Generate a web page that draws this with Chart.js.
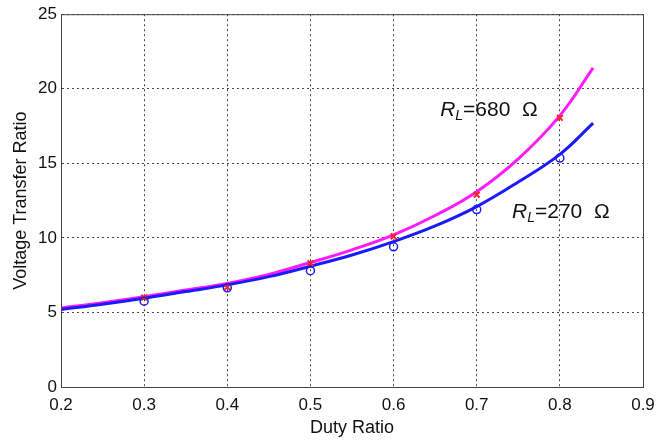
<!DOCTYPE html>
<html>
<head>
<meta charset="utf-8">
<script src="https://cdn.jsdelivr.net/npm/chart.js@4/dist/chart.umd.min.js"></script>
<style>
  html, body { margin: 0; padding: 0; background: #fff; }
  #wrap { width: 657px; height: 443px; }
</style>
</head>
<body>
<div id="wrap"><canvas id="vtr"></canvas></div>
<script>
// simulated curves
var curveX = [0.2, 0.25, 0.3, 0.35, 0.4, 0.45, 0.5, 0.55, 0.6, 0.65, 0.7, 0.75, 0.8, 0.84];
var curve680 = [5.3, 5.65, 6.05, 6.5, 6.95, 7.55, 8.35, 9.2, 10.2, 11.5, 13.1, 15.3, 18.2, 21.4];
var curve270 = [5.2, 5.55, 5.95, 6.4, 6.85, 7.4, 8.1, 8.85, 9.75, 10.8, 12.1, 13.75, 15.6, 17.7];

// measured points
var measX = [0.3, 0.4, 0.5, 0.6, 0.7, 0.8];
var meas680 = [6.0, 6.7, 8.3, 10.1, 12.9, 18.05];
var meas270 = [5.75, 6.65, 7.8, 9.4, 11.9, 15.35];

var xTicks = [0.2, 0.3, 0.4, 0.5, 0.6, 0.7, 0.8, 0.9];

// label anchors, in data units
var labels = [
    { x: 0.656, y: 18.2, value: "680" },
    { x: 0.7425, y: 11.33, value: "270" },
];

function pts(xs, ys) {
    return xs.map(function (x, i) { return { x: x, y: ys[i] }; });
}

var frameAndLabels = {
    id: "frameAndLabels",
    afterDraw: function (chart) {
        var ctx = chart.ctx;
        var a = chart.chartArea;
        ctx.save();
        ctx.strokeStyle = "#444";
        ctx.lineWidth = 1;
        ctx.strokeRect(a.left + 0.5, a.top + 0.5, a.right - a.left, a.bottom - a.top);

        ctx.fillStyle = "#111";
        ctx.textBaseline = "alphabetic";
        labels.forEach(function (l) {
            var px = chart.scales.x.getPixelForValue(l.x);
            var py = chart.scales.y.getPixelForValue(l.y);
            ctx.font = "italic 21px 'Liberation Sans', Arial";
            ctx.fillText("R", px, py);
            px += ctx.measureText("R").width;
            ctx.font = "italic 14px 'Liberation Sans', Arial";
            ctx.fillText("L", px, py + 4);
            px += ctx.measureText("L").width;
            ctx.font = "21px 'Liberation Sans', Arial";
            ctx.fillText("=" + l.value + "  \u03A9", px, py);
        });
        ctx.restore();
    },
};

new Chart("vtr", {
    type: "scatter",
    data: {
        datasets: [
            {
                type: "line",
                data: pts(curveX, curve680),
                borderColor: "#ff1aff",
                borderWidth: 3,
                pointRadius: 0,
                tension: 0.4,
                order: 3,
            },
            {
                type: "line",
                data: pts(curveX, curve270),
                borderColor: "#1a1aff",
                borderWidth: 3,
                pointRadius: 0,
                tension: 0.4,
                order: 2,
            },
            {
                data: pts(measX, meas680),
                pointStyle: "crossRot",
                pointRadius: 4,
                borderColor: "#ff2020",
                borderWidth: 2,
                order: 1,
            },
            {
                data: pts(measX, meas270),
                pointStyle: "circle",
                pointRadius: 4,
                borderColor: "#1a1aff",
                backgroundColor: "rgba(0,0,0,0)",
                borderWidth: 1.5,
                order: 0,
            },
        ],
    },
    options: {
        responsive: true,
        maintainAspectRatio: false,
        animation: false,
        layout: { padding: { top: 13, right: 14, left: 6, bottom: 0 } },
        plugins: {
            legend: { display: false },
            tooltip: { enabled: false },
        },
        scales: {
            x: {
                type: "linear",
                min: 0.2,
                max: 0.9,
                afterBuildTicks: function (axis) {
                    axis.ticks = xTicks.map(function (v) { return { value: v }; });
                },
                afterFit: function (axis) {
                    axis.height = 56;
                    axis.paddingRight = 0;
                    axis.paddingLeft = 0;
                },
                ticks: {
                    color: "#111",
                    font: { family: "'Liberation Sans', Arial", size: 17 },
                    padding: 8,
                    callback: function (v) { return v.toFixed(1); },
                },
                grid: { color: "#444", lineWidth: 1, tickLength: 0, drawTicks: false },
                border: { display: true, color: "#444", dash: [2, 3] },
                title: {
                    display: true,
                    text: "Duty Ratio",
                    color: "#111",
                    font: { family: "'Liberation Sans', Arial", size: 18 },
                    padding: { top: 0 },
                },
            },
            y: {
                min: 0,
                max: 25,
                ticks: {
                    stepSize: 5,
                    color: "#111",
                    font: { family: "'Liberation Sans', Arial", size: 17 },
                    padding: 4,
                },
                afterFit: function (axis) { axis.width = 55; },
                grid: { color: "#444", lineWidth: 1, drawTicks: false },
                border: { display: true, color: "#444", dash: [2, 3] },
                title: {
                    display: true,
                    text: "Voltage Transfer Ratio",
                    color: "#111",
                    font: { family: "'Liberation Sans', Arial", size: 18 },
                    padding: { bottom: 2 },
                },
            },
        },
    },
    plugins: [frameAndLabels],
});
</script>
</body>
</html>
